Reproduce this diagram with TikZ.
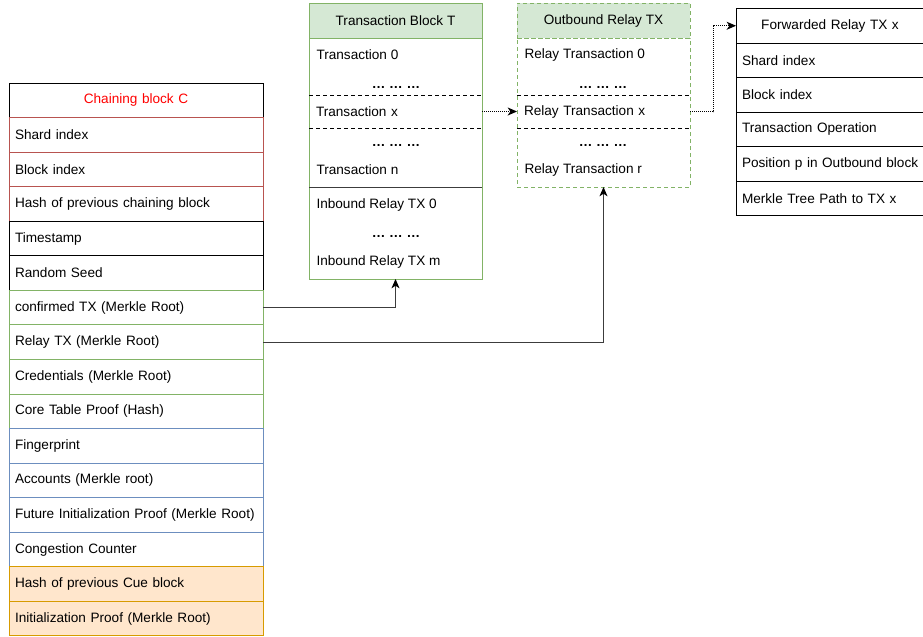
\documentclass[tikz,border=0pt]{standalone}
\usepackage{fontspec}
\setmainfont{Liberation Sans}
\usepackage{tikz}
\usetikzlibrary{arrows.meta}
\definecolor{chainred}{HTML}{B85450}
\definecolor{chaingreen}{HTML}{82B366}
\definecolor{chainblue}{HTML}{6C8EBF}
\definecolor{cueorange}{HTML}{D79B00}
\definecolor{cuefill}{HTML}{FFE6CC}
\definecolor{headfill}{HTML}{D5E8D4}
\definecolor{linkgray}{RGB}{60,60,60}

\begin{document}
\begin{tikzpicture}[x=0.75pt, y=-0.75pt, line width=0.75pt,
    font=\fontsize{10.2}{12}\selectfont,
    cell/.style={draw, rectangle, anchor=north west, minimum height=25.92pt,
                 inner xsep=4.5pt, inner ysep=0pt, outer sep=0pt,
                 text width=181.5pt, align=left},
    fcell/.style={cell, minimum height=25.875pt, text width=132pt},
    boxhead/.style={rectangle, anchor=north west, fill=headfill, minimum width=129.75pt,
                    minimum height=26.25pt, inner sep=0pt, outer sep=0pt},
    boxbody/.style={rectangle, anchor=north west, minimum width=129.75pt, inner sep=0pt, outer sep=0pt},
    slot/.style={rectangle, anchor=north west, minimum width=129.75pt, minimum height=24.75pt,
                 inner xsep=5.25pt, inner ysep=0pt, outer sep=0pt, text width=119.25pt, align=left},
    item/.style={anchor=west, inner sep=0pt},
    gap/.style={inner sep=0pt, font=\fontsize{10.2}{12}\selectfont\bfseries},
    cut/.style={dash pattern=on 3pt off 2.25pt},
    link/.style={draw=linkgray, -{Stealth[length=7pt, width=6pt, inset=2pt, color=black]}},
    dotlink/.style={draw=black, dash pattern=on 0.75pt off 0.75pt, -{Stealth[length=7pt, width=6pt, inset=2pt, color=black]}}
  ]
  \clip (0,0) rectangle (923,636);

  \node[cell, align=center, text=red] (chead) at (9,83)     {Chaining block C};
  \node[cell, draw=chainred]   (shard)  at (9,117.56) {Shard index};
  \node[cell, draw=chainred]   (bindex) at (9,152.12) {Block index};
  \node[cell, draw=chainred]   (prev)   at (9,186.68) {Hash of previous chaining block};
  \node[cell]                  (stamp)  at (9,221.24) {Timestamp};
  \node[cell]                  (seed)   at (9,255.80) {Random Seed};
  \node[cell, draw=chaingreen] (conf)   at (9,290.36) {confirmed TX (Merkle Root)};
  \node[cell, draw=chaingreen] (relay)  at (9,324.92) {Relay TX (Merkle Root)};
  \node[cell, draw=chaingreen] (cred)   at (9,359.48) {Credentials (Merkle Root)};
  \node[cell, draw=chaingreen] (core)   at (9,394.04) {Core Table Proof (Hash)};
  \node[cell, draw=chainblue]  (finger) at (9,428.60) {Fingerprint};
  \node[cell, draw=chainblue]  (acc)    at (9,463.16) {Accounts (Merkle root)};
  \node[cell, draw=chainblue]  (future) at (9,497.72) {Future Initialization Proof (Merkle Root)};
  \node[cell, draw=chainblue]  (cong)   at (9,532.28) {Congestion Counter};
  \node[cell, draw=cueorange, fill=cuefill] (cue)  at (9,566.84) {Hash of previous Cue block};
  \node[cell, draw=cueorange, fill=cuefill] (init) at (9,601.40) {Initialization Proof (Merkle Root)};

  \node[boxbody, draw=chaingreen, minimum height=180.75pt] (tbody) at (309,38) {};
  \node[boxhead, draw=chaingreen] (thead) at (309,3) {Transaction Block T};
  \node[item] (t0) at (316,55) {Transaction 0};
  \node[gap] (tgap1) at (396,87) {… … …};
  \node[slot] (tx) at (309,95) {Transaction x};
  \draw[cut] (tx.north west) -- (tx.north east);
  \draw[cut] (tx.south west) -- (tx.south east);
  \node[gap] (tgap2) at (396,145) {… … …};
  \node[item] (tn) at (316,170) {Transaction n};
  \draw[color=linkgray] (309,187) -- (482,187);
  \node[item] (in0) at (316,205) {Inbound Relay TX 0};
  \node[gap] (tgap3) at (396,236) {… … …};
  \node[item] (inm) at (316,262) {Inbound Relay TX m};

  \node[boxbody, draw=chaingreen, cut, minimum height=111.75pt] (obody) at (517,38) {};
  \node[boxhead, draw=chaingreen, cut] (ohead) at (517,3) {Outbound Relay TX};
  \node[item] (r0) at (524,55) {Relay Transaction 0};
  \node[gap] (ogap1) at (603,87) {… … …};
  \node[slot] (rx) at (517,95) {Relay Transaction x};
  \draw[cut] (rx.north west) -- (rx.north east);
  \draw[cut] (rx.south west) -- (rx.south east);
  \node[gap] (ogap2) at (603,145) {… … …};
  \node[item] (rr) at (524,170) {Relay Transaction r};

  \node[fcell, align=center] (fhead) at (736,8.5) {Forwarded Relay TX x};
  \node[fcell] (fshard) at (736,43)   {Shard index};
  \node[fcell] (fblock) at (736,77.5) {Block index};
  \node[fcell] (fop)    at (736,112)  {Transaction Operation};
  \node[fcell] (fpos)   at (736,146.5){\rlap{Position p in Outbound block}};
  \node[fcell] (fpath)  at (736,181)  {Merkle Tree Path to TX x};

  \draw[link] (conf.east) -| (tbody.south);
  \draw[link] (relay.east) -| (obody.south);
  \draw[dotlink] (tx.east) -- (rx.west);
  \draw[dotlink] (rx.east) -- ++(23,0) |- (fhead.west);
\end{tikzpicture}
\end{document}
